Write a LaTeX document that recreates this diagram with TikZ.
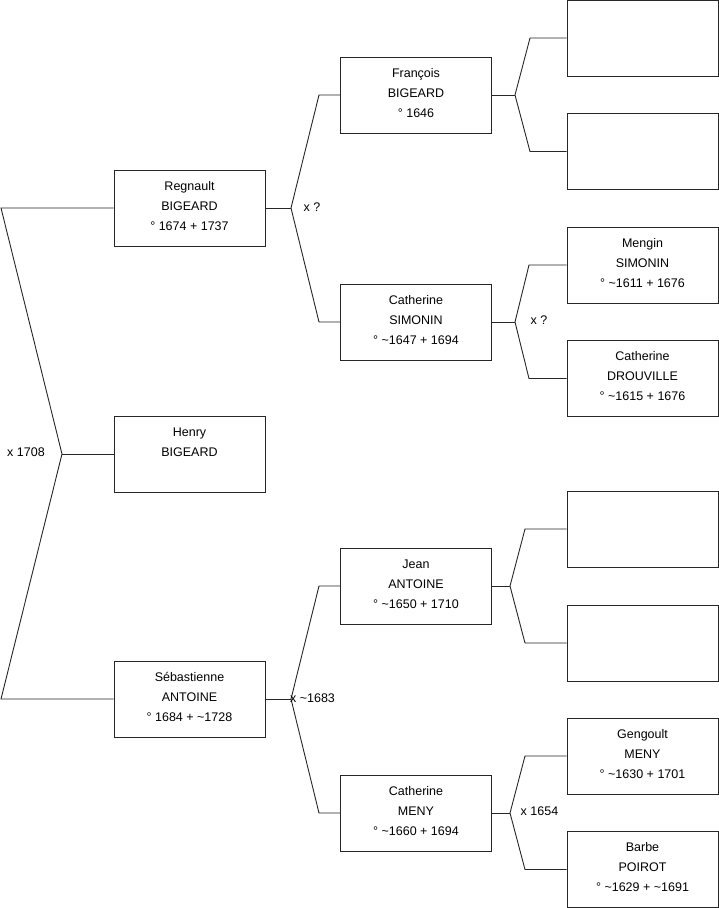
\documentclass[tikz,border=0pt]{standalone}
\usepackage{fontspec}
\setmainfont{Liberation Sans}
\newcommand{\tl}{\textasciitilde}
\begin{document}
\begin{tikzpicture}[x=1pt,y=-1pt,
  person/.style={draw=black!85,line width=1pt,rectangle,minimum width=151pt,minimum height=76pt,
    inner sep=0pt,align=center,font=\fontsize{12.5}{20}\selectfont},
  txt/.style={inner sep=0pt,align=center,font=\fontsize{12.5}{20}\selectfont},
  conn/.style={draw=black!85,line width=0.9pt},
  lbl/.style={font=\fontsize{12.5}{14}\selectfont,inner sep=0pt}]
\useasboundingbox (0,0) rectangle (719,908);
% column 1
\node[person] (reg) at (189.5,208) {};
\node[person] (hen) at (189.5,454) {};
\node[person] (seb) at (189.5,699) {};
% column 2
\node[person] (fra) at (416,95) {};
\node[person] (cats) at (416,322) {};
\node[person] (jea) at (416,586) {};
\node[person] (catm) at (416,813) {};
% column 3
\node[person] (e1) at (642.5,38) {};
\node[person] (e2) at (642.5,151.5) {};
\node[person] (men) at (642.5,265) {};
\node[person] (dro) at (642.5,378.5) {};
\node[person] (e3) at (642.5,529) {};
\node[person] (e4) at (642.5,643) {};
\node[person] (gen) at (642.5,756) {};
\node[person] (bar) at (642.5,869.5) {};
% texts
\node[txt] (treg) at ([yshift=2pt]reg.center) {Regnault\\BIGEARD\\° 1674 + 1737};
\node[txt] (then) at ([yshift=2pt]hen.center) {Henry\\BIGEARD\\\mbox{}};
\node[txt] (tseb) at ([yshift=2pt]seb.center) {Sébastienne\\ANTOINE\\° 1684 + \tl1728};
\node[txt] (tfra) at ([yshift=2pt]fra.center) {François\\BIGEARD\\° 1646};
\node[txt] (tcats) at ([yshift=2pt]cats.center) {Catherine\\SIMONIN\\° \tl1647 + 1694};
\node[txt] (tjea) at ([yshift=2pt]jea.center) {Jean\\ANTOINE\\° \tl1650 + 1710};
\node[txt] (tcatm) at ([yshift=2pt]catm.center) {Catherine\\MENY\\° \tl1660 + 1694};
\node[txt] (tmen) at ([yshift=2pt]men.center) {Mengin\\SIMONIN\\° \tl1611 + 1676};
\node[txt] (tdro) at ([yshift=2pt]dro.center) {Catherine\\DROUVILLE\\° \tl1615 + 1676};
\node[txt] (tgen) at ([yshift=2pt]gen.center) {Gengoult\\MENY\\° \tl1630 + 1701};
\node[txt] (tbar) at ([yshift=2pt]bar.center) {Barbe\\POIROT\\° \tl1629 + \tl1691};
% joints
\coordinate (lt) at (1,208);
\coordinate (lm) at (62,454);
\coordinate (lb) at (1,699);
\coordinate (rj) at (291,208);
\coordinate (ru) at (319,95);
\coordinate (rd) at (319,322);
\coordinate (sj) at (291,699);
\coordinate (su) at (319,586);
\coordinate (sd) at (319,813);
\coordinate (fj) at (515,95);
\coordinate (fu) at (530,38);
\coordinate (fd) at (530,151.5);
\coordinate (cj) at (515,322);
\coordinate (cu) at (529,265);
\coordinate (cd) at (529,378.5);
\coordinate (jj) at (510,586);
\coordinate (ju) at (525,529);
\coordinate (jd) at (525,643);
\coordinate (mj) at (510,813);
\coordinate (mu) at (525,756);
\coordinate (md) at (525,869.5);
% connectors
\draw[conn] (reg.west) -- (lt) -- (lm) -- (lb) -- (seb.west);
\draw[conn] (lm) -- (hen.west);
\draw[conn] (reg.east) -- (rj);
\draw[conn] (fra.west) -- (ru) -- (rj) -- (rd) -- (cats.west);
\draw[conn] (seb.east) -- (sj);
\draw[conn] (jea.west) -- (su) -- (sj) -- (sd) -- (catm.west);
\draw[conn] (fra.east) -- (fj);
\draw[conn] (e1.west) -- (fu) -- (fj) -- (fd) -- (e2.west);
\draw[conn] (cats.east) -- (cj);
\draw[conn] (men.west) -- (cu) -- (cj) -- (cd) -- (dro.west);
\draw[conn] (jea.east) -- (jj);
\draw[conn] (e3.west) -- (ju) -- (jj) -- (jd) -- (e4.west);
\draw[conn] (catm.east) -- (mj);
\draw[conn] (gen.west) -- (mu) -- (mj) -- (md) -- (bar.west);
% labels
\node[lbl] (l1) at (26,452) {x 1708};
\node[lbl] (l2) at (312,207) {x ?};
\node[lbl] (l3) at (312.5,698) {x \tl1683};
\node[lbl] (l4) at (539,320) {x ?};
\node[lbl] (l5) at (539.5,811) {x 1654};
\end{tikzpicture}
\end{document}
